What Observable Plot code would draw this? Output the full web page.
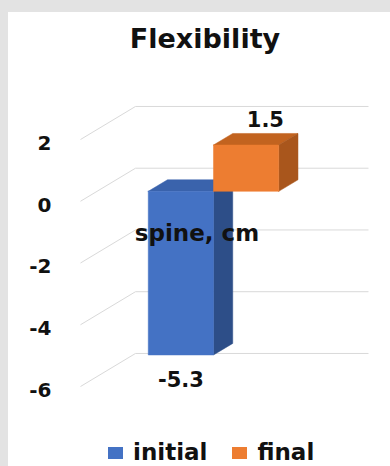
<!DOCTYPE html>
<html>
<head>
<meta charset="utf-8">
<script src="https://cdn.jsdelivr.net/npm/d3@7"></script>
<script src="https://cdn.jsdelivr.net/npm/@observablehq/plot@0.6"></script>
<style>
  html, body { margin: 0; padding: 0; }
  body {
    width: 390px; height: 466px; overflow: hidden; position: relative;
    background: #e3e3e3; font-family: "DejaVu Sans", sans-serif;
  }
  #panel { position: absolute; left: 8px; top: 12px; width: 382px; height: 454px; background: #fff; }
  #title {
    position: absolute; left: 12px; right: 0; top: 11px;
    text-align: center; font-weight: bold; font-size: 27px; line-height: 32px; color: #111;
  }
  #chart { position: absolute; left: 0; top: 58px; }
  #legend {
    position: absolute; left: 100px; top: 427px; height: 26px;
    display: flex; align-items: center; font-weight: bold; font-size: 23px; line-height: 26px; color: #111;
  }
  #legend .item { display: flex; align-items: center; margin-right: 25px; }
  #legend .sw { width: 15px; height: 12px; margin-right: 10px; margin-top: 2px; }
</style>
</head>
<body>
<div id="panel">
  <div id="title">Flexibility</div>
  <div id="chart"></div>
  <div id="legend"></div>
</div>
<script>
// Flexibility change, spine (cm)
const categories = ["spine, cm"];
const series = ["initial", "final"];
const values = [-5.3, 1.5];
const yTicks = [-6, -4, -2, 0, 2];

// face colours per series: front, top, side
const palette = {
  initial: {front: "#4472C4", top: "#3A63AC", side: "#2D4E88"},
  final:   {front: "#ED7D31", top: "#C2631F", side: "#A9561C"}
};

// pseudo-3D layout: one category slot spans x 0..10, bars sit side by side
const slot = [0, 10];
const barWidth = 2.8;
const wallDX = 2.36;   // back wall offset in x units
const wallDY = 1.07;   // back wall offset in value units
const depthFront = 0.3, depthBack = 0.65;

const proj = (x, v, d) => ({x: x + d * wallDX, y: v + d * wallDY});

const center = (slot[0] + slot[1]) / 2;
const bars = series.map((s, i) => {
  const x0 = center - barWidth * (series.length / 2) + i * barWidth;
  return {series: s, category: categories[0], value: values[i], x0, x1: x0 + barWidth};
});

function polygon(pts) { return [...pts, pts[0]]; }

const faceMarks = [];
for (const b of bars) {
  const v = b.value, t = Math.max(v, 0);
  const c = palette[b.series];
  const front = polygon([proj(b.x0, 0, depthFront), proj(b.x1, 0, depthFront), proj(b.x1, v, depthFront), proj(b.x0, v, depthFront)]);
  const side = polygon([proj(b.x1, 0, depthFront), proj(b.x1, 0, depthBack), proj(b.x1, v, depthBack), proj(b.x1, v, depthFront)]);
  const top = polygon([proj(b.x0, t, depthFront), proj(b.x1, t, depthFront), proj(b.x1, t, depthBack), proj(b.x0, t, depthBack)]);
  faceMarks.push(
    Plot.line(top, {x: "x", y: "y", fill: c.top, stroke: c.top, strokeWidth: 0.5}),
    Plot.line(side, {x: "x", y: "y", fill: c.side, stroke: c.side, strokeWidth: 0.5}),
    Plot.line(front, {x: "x", y: "y", fill: c.front, stroke: c.front, strokeWidth: 0.5})
  );
}

const gridColor = "#d9d9d9";
const above = bars.filter(b => b.value >= 0).map(b => ({...proj((b.x0 + b.x1) / 2, b.value, depthBack), label: String(b.value)}));
const below = bars.filter(b => b.value < 0).map(b => ({...proj((b.x0 + b.x1) / 2, b.value, depthFront), label: String(b.value)}));

const chart = Plot.plot({
  width: 382,
  height: 340,
  marginLeft: 72,
  marginRight: 77,
  marginTop: 69,
  marginBottom: 24,
  style: {background: "transparent", overflow: "visible", fontFamily: "DejaVu Sans, sans-serif", color: "#111"},
  x: {domain: slot, axis: null},
  y: {domain: [yTicks[0], yTicks[yTicks.length - 1]], axis: null},
  marks: [
    // side wall and back wall grid
    Plot.link(yTicks, {x1: slot[0], y1: d => d, x2: slot[0] + wallDX, y2: d => d + wallDY, stroke: gridColor, strokeWidth: 1}),
    Plot.link(yTicks, {x1: slot[0] + wallDX, y1: d => d + wallDY, x2: slot[1] + wallDX, y2: d => d + wallDY, stroke: gridColor, strokeWidth: 1}),
    Plot.axisY({ticks: yTicks, label: null, tickSize: 0, tickPadding: 29, dy: 4, fontSize: 20, fontWeight: "bold", tickFormat: d => String(d)}),
    ...faceMarks,
    Plot.text(categories, {x: center, y: 0, text: d => d, dy: 32, fontSize: 23, fontWeight: "bold", fill: "#111"}),
    Plot.text(above, {x: "x", y: "y", text: "label", dy: -13, fontSize: 21, fontWeight: "bold", fill: "#111"}),
    Plot.text(below, {x: "x", y: "y", text: "label", dy: 25, fontSize: 21, fontWeight: "bold", fill: "#111"})
  ]
});
document.getElementById("chart").append(chart);

// legend
const legend = document.getElementById("legend");
for (const s of series) {
  const item = document.createElement("div");
  item.className = "item";
  const sw = document.createElement("span");
  sw.className = "sw";
  sw.style.background = palette[s].front;
  const label = document.createElement("span");
  label.textContent = s;
  item.append(sw, label);
  legend.append(item);
}
</script>
</body>
</html>
